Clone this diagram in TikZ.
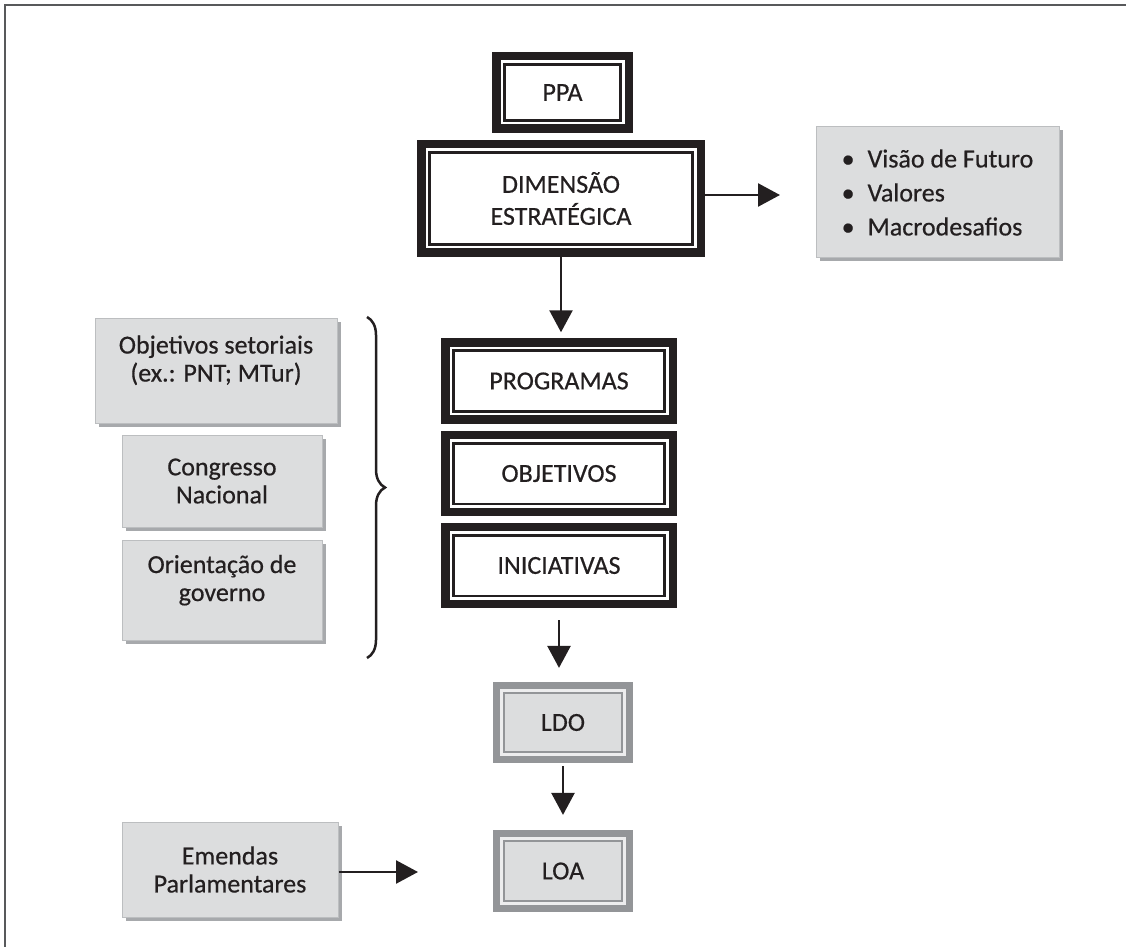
\documentclass[tikz,border=0pt]{standalone}
\usepackage{fontspec}
\setmainfont{Carlito}[FakeBold=0.5]
\usetikzlibrary{
	arrows.meta,
	shadows,
	decorations.pathreplacing
}
\definecolor{inkblack}{HTML}{231F20}
\definecolor{framegray}{HTML}{58595B}
\definecolor{midgray}{HTML}{939598}
\definecolor{palegray}{HTML}{DCDDDE}
\definecolor{litegray}{HTML}{EDEDEE}
\definecolor{edgegray}{HTML}{BCBEC0}
\definecolor{shadegray}{HTML}{A7A9AC}

\tikzset{
	stagebox/.style={draw=inkblack, line width=4.25pt, fill=white, text=inkblack, inner sep=0pt, align=center,
		font=\fontsize{13pt}{16pt}\selectfont,
		path picture={\draw[inkblack, line width=1.3pt] ([shift={(4.1pt,4.1pt)}]path picture bounding box.south west) rectangle ([shift={(-4.1pt,-4.1pt)}]path picture bounding box.north east);}},
	lawbox/.style={draw=midgray, line width=3.6pt, fill=palegray, text=inkblack, inner sep=0pt, align=center,
		font=\fontsize{13pt}{16pt}\selectfont,
		path picture={\draw[litegray, line width=1.35pt] ([shift={(2.45pt,2.45pt)}]path picture bounding box.south west) rectangle ([shift={(-2.45pt,-2.45pt)}]path picture bounding box.north east);
			\draw[midgray, line width=1.35pt] ([shift={(3.8pt,3.8pt)}]path picture bounding box.south west) rectangle ([shift={(-3.8pt,-3.8pt)}]path picture bounding box.north east);}},
	graybox/.style={draw=edgegray, line width=0.5pt, fill=palegray, text=inkblack, inner sep=0pt, align=center,
		font=\fontsize{13pt}{14pt}\selectfont,
		general shadow={fill=shadegray, shadow xshift=1.75pt, shadow yshift=-1.75pt}},
	arr/.style={-{Triangle[length=11pt,width=11.5pt]}, line width=1.25pt, inkblack}
}

\begin{document}
\begin{tikzpicture}[x=0.5pt, y=-0.5pt]
	\useasboundingbox (0,0) rectangle (1126,947);
	\draw[framegray, line width=1pt] (5,947) -- (5,5) -- (1126,5);

	% main column
	\node[stagebox, minimum width=66.25pt, minimum height=36.25pt] (ppa) at (562.5,92.5) {PPA};
	\node[stagebox, minimum width=139.75pt, minimum height=54.25pt] (dim) at (561,198.5) {DIMENSÃO\\ESTRATÉGICA};
	\node[stagebox, minimum width=113.75pt, minimum height=38.5pt] (prog) at (559,381) {PROGRAMAS};
	\node[stagebox, minimum width=113.75pt, minimum height=38.5pt] (obj) at (559,473.5) {OBJETIVOS};
	\node[stagebox, minimum width=113.75pt, minimum height=38.5pt] (inic) at (559,565.5) {INICIATIVAS};
	\node[lawbox, minimum width=66.5pt, minimum height=37pt] (ldo) at (563,722.5) {LDO};
	\node[lawbox, minimum width=66.5pt, minimum height=37.5pt] (loa) at (563,871) {LOA};

	% side boxes
	\node[graybox, minimum width=121.5pt, minimum height=65.5pt, align=left,
		font=\fontsize{13pt}{17pt}\selectfont] (visao) at (937.5,192.5)
		{•\hspace{0.5em}Visão de Futuro\\•\hspace{0.5em}Valores\\•\hspace{0.5em}Macrodesafios};
	\node[graybox, minimum width=121pt, minimum height=52.5pt] (setor) at (216,370.5)
		{Objetivos setoriais\\(ex.: PNT; MTur)\\[-2pt]\mbox{}};
	\node[graybox, minimum width=100pt, minimum height=46pt] (congr) at (222,481) {Congresso\\Nacional};
	\node[graybox, minimum width=100pt, minimum height=50pt] (orient) at (222,590)
		{Orientação de\\governo\\[-2pt]\mbox{}};
	\node[graybox, minimum width=108pt, minimum height=47.5pt] (emendas) at (230,869.5) {Emendas\\Parlamentares};

	\draw[inkblack, line width=1.25pt, decorate, decoration={brace, amplitude=9pt}] (367,317) -- (367,658);

	% connectors
	\coordinate (vistip) at (780,195);
	\coordinate (emtip) at (418,872);
	\draw[arr] (dim.east |- vistip) -- (vistip);
	\draw[arr, shorten >=3pt] (dim.south) -- (dim.south |- prog.north);
	\draw[arr, shorten <=6pt, shorten >=7pt] (inic.south) -- (inic.south |- ldo.north);
	\draw[arr, shorten <=1.5pt, shorten >=7.5pt] (ldo.south) -- (ldo.south |- loa.north);
	\draw[arr] (emendas.east |- emtip) -- (emtip);
\end{tikzpicture}
\end{document}
